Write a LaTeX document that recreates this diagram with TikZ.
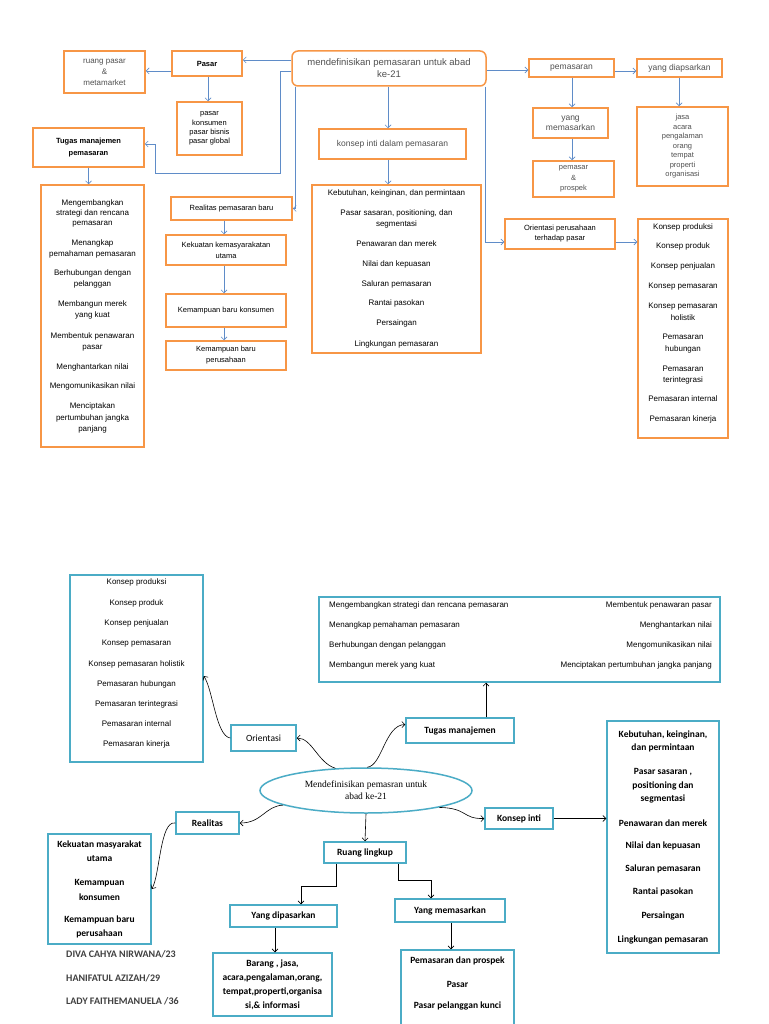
\documentclass[tikz,border=0pt]{standalone}
\usepackage{fontspec}
\setmainfont{Liberation Sans}
\newfontfamily\carl{Carlito}
\newfontfamily\tms{Liberation Serif}
\usetikzlibrary{shapes.geometric,arrows.meta}
\definecolor{org}{RGB}{247,150,70}
\definecolor{tl}{RGB}{75,172,198}
\definecolor{bl}{RGB}{95,140,200}
\definecolor{tg}{RGB}{80,80,80}
\definecolor{nm}{RGB}{64,64,64}
\begin{document}
\begin{tikzpicture}[x=1pt,y=-1pt,
 sz/.style n args={2}{minimum width=#1pt,minimum height=#2pt},
 obox/.style={draw=org,line width=1.5pt,inner sep=0pt,align=center,font=\fontsize{7.5}{9}\selectfont},
 tbox/.style={draw=tl,line width=1.5pt,inner sep=0pt,align=center,font=\carl\bfseries\fontsize{9.5}{11}\selectfont},
 ltxt/.style={inner sep=0pt,font=\fontsize{8}{9}\selectfont},
 btxt/.style={inner sep=0pt,font=\carl\bfseries\fontsize{9.5}{11}\selectfont},
 barrow/.style={draw=bl,line width=0.7pt,-{Straight Barb[length=3pt,width=6pt]}},
 karrow/.style={draw=black,line width=0.6pt,-{Straight Barb[length=3pt,width=6pt]}},
]
\fill[white] (0,0) rectangle (768,1024);
\useasboundingbox (0,0) rectangle (768,1024);

% ================= TOP =================
\node[obox,sz={194}{35},rounded corners=6pt,font=\fontsize{9.5}{12}\selectfont,text=tg] (main) at (389,68.5) {mendefinisikan pemasaran untuk abad\\ke-21};
\node[obox,sz={70}{25},font=\bfseries\fontsize{7.5}{9}\selectfont] (pasar) at (207,63.5) {Pasar};
\node[obox,sz={81}{42},font=\fontsize{8}{11}\selectfont,text=tg] (ruang) at (104.5,72) {ruang pasar\\\&\\metamarket};
\node[obox,sz={65}{53},font=\fontsize{7.5}{9.3}\selectfont] (pkons) at (209.5,128.5) {pasar\\konsumen\\pasar bisnis\\pasar global};
\node[obox,sz={111}{39},font=\bfseries\fontsize{7.5}{12}\selectfont] (tugasT) at (88.5,147.5) {Tugas manajemen\\pemasaran};
\node[obox,sz={103}{262}] (tlist) at (92.5,316) {};
\foreach \t/\y in {Mengembangkan/203,{strategi dan rencana}/213,pemasaran/224,Menangkap/243,{pemahaman pemasaran}/254,{Berhubungan dengan}/273,pelanggan/284,{Membangun merek}/304,{yang kuat}/315,{Membentuk penawaran}/336,pasar/348,{Menghantarkan nilai}/367,{Mengomunikasikan nilai}/386,Menciptakan/406,{pertumbuhan jangka}/418,panjang/429}
  \node[ltxt] (tl\y) at (92.5,\y) {\t};

\node[obox,sz={121}{23}] (realT) at (231.5,208.5) {Realitas pemasaran baru};
\node[obox,sz={120}{30},font=\fontsize{7.5}{11}\selectfont] (kek) at (226,250) {Kekuatan kemasyarakatan\\utama};
\node[obox,sz={120}{33}] (kkons) at (226,310.5) {Kemampuan baru konsumen};
\node[obox,sz={120}{29},font=\fontsize{7.5}{11}\selectfont] (kper) at (226,355.5) {Kemampuan baru\\perusahaan};

\node[obox,sz={147}{30},font=\fontsize{8.5}{10}\selectfont,text=tg] (kinti) at (392.5,144) {konsep inti dalam pemasaran};
\node[obox,sz={169}{168}] (kbt) at (396.5,269) {};
\foreach \t/\y in {{Kebutuhan, keinginan, dan permintaan}/193,{Pasar sasaran, positioning, dan}/213,segmentasi/224,{Penawaran dan merek}/244,{Nilai dan kepuasan}/264,{Saluran pemasaran}/284,{Rantai pasokan}/303,Persaingan/323,{Lingkungan pemasaran}/344}
  \node[ltxt] (kb\y) at (396.5,\y) {\t};

\node[obox,sz={85}{18},font=\fontsize{8.5}{10}\selectfont,text=tg] (pem) at (571.5,68) {pemasaran};
\node[obox,sz={85}{18},font=\fontsize{8.5}{10}\selectfont,text=tg] (ydip) at (679.5,68) {yang diapsarkan};
\node[obox,sz={75}{30},font=\fontsize{8.5}{10}\selectfont,text=tg] (ymem) at (570.5,123) {yang\\memasarkan};
\node[obox,sz={81}{36},font=\fontsize{7.5}{10.5}\selectfont,text=tg] (pprosp) at (573.5,179) {pemasar\\\&\\prospek};
\node[obox,sz={91}{79},font=\fontsize{7.5}{9.5}\selectfont,text=tg] (jasa) at (682.5,146.5) {jasa\\acara\\pengalaman\\orang\\tempat\\properti\\organisasi};
\node[obox,sz={110}{30},font=\fontsize{7.5}{10}\selectfont] (orT) at (560,234) {Orientasi perusahaan\\terhadap pasar};
\node[obox,sz={90}{219}] (klistT) at (683,328.5) {};
\foreach \t/\y in {{Konsep produksi}/227,{Konsep produk}/246,{Konsep penjualan}/266,{Konsep pemasaran}/287,{Konsep pemasaran}/307,holistik/318,Pemasaran/337,hubungan/349,Pemasaran/369,terintegrasi/380,{Pemasaran internal}/399,{Pemasaran kinerja}/419}
  \node[ltxt] (kp\y) at (683,\y) {\t};

% top connectors
\draw[barrow] ([yshift=8.5pt]main.west) -- ([yshift=3.5pt]pasar.east);
\draw[barrow] ([yshift=-7.5pt]pasar.west) -- ([yshift=1pt]ruang.east);
\draw[barrow] ([xshift=1pt]pasar.south) -- ([xshift=-1.5pt]pkons.north);
\draw[barrow] ([yshift=-2.5pt]main.west) -- (280,71) -- (280,173) -- (155,173) -- (155,144) -- ([yshift=3.5pt]tugasT.east);
\draw[barrow] ([xshift=4pt]main.south west) |- (realT.east);
\coordinate (oe) at ([yshift=-8pt]orT.west);
\draw[barrow] ([xshift=-1pt]main.south east) |- (oe);
\draw[barrow] ([xshift=-1pt]main.south) -- ([xshift=-4.5pt]kinti.north);
\draw[barrow] ([xshift=-4.5pt]kinti.south) -- ([xshift=-8.5pt]kbt.north);
\draw[barrow] ([yshift=-1.5pt]main.east) -- ([yshift=-2pt]pem.west);
\draw[barrow] ([yshift=-3pt]pem.east) -- ([yshift=-3pt]ydip.west);
\draw[barrow] ([xshift=0.5pt]pem.south) -- ([xshift=1.5pt]ymem.north);
\draw[barrow] ([xshift=1.5pt]ymem.south) -- ([xshift=-1.5pt]pprosp.north);
\draw[barrow] ([xshift=-0.5pt]ydip.south) -- ([xshift=-3.5pt]jasa.north);
\draw[barrow] (tugasT.south) -- (tugasT.south |- tlist.north);
\draw[barrow] ([xshift=-7.5pt]realT.south) -- ([xshift=-2pt]kek.north);
\draw[barrow] ([xshift=-2pt]kek.south) -- ([xshift=-2pt]kkons.north);
\draw[barrow] ([xshift=-2pt]kkons.south) -- ([xshift=-2pt]kper.north);
\coordinate (oe2) at ([yshift=-8pt]orT.east);
\draw[barrow] (oe2) -- (klistT.west |- oe2);

% ================= BOTTOM =================
\node[tbox,sz={133}{187}] (klistB) at (136.5,668.5) {};
\foreach \t/\y in {{Konsep produksi}/582,{Konsep produk}/603,{Konsep penjualan}/623,{Konsep pemasaran}/644,{Konsep pemasaran holistik}/664,{Pemasaran hubungan}/684,{Pemasaran terintegrasi}/704,{Pemasaran internal}/724,{Pemasaran kinerja}/744}
  \node[ltxt] (kq\y) at (136.5,\y) {\t};

\node[tbox,sz={65}{26},font=\carl\fontsize{9.5}{11}\selectfont] (orB) at (263.5,738) {Orientasi};
\node[draw=tl,line width=1.5pt,ellipse,inner sep=0pt,sz={212}{45},align=center,font=\tms\fontsize{9.5}{12}\selectfont] (ell) at (366,790.5) {Mendefinisikan pemasran untuk\\abad ke-21};
\node[tbox,sz={108}{25}] (tugB) at (460,730.5) {Tugas manajemen};
\node[tbox,sz={401}{85}] (tlistB) at (519.5,639.5) {};
\foreach \t/\y in {{Mengembangkan strategi dan rencana pemasaran}/605,{Menangkap pemahaman pemasaran}/625,{Berhubungan dengan pelanggan}/645,{Membangun merek yang kuat}/665}
  \node[ltxt,anchor=west] (ml\y) at (329,\y) {\t};
\foreach \t/\y in {{Membentuk penawaran pasar}/605,{Menghantarkan nilai}/625,{Mengomunikasikan nilai}/645,{Menciptakan pertumbuhan jangka panjang}/665}
  \node[ltxt,anchor=east] (mr\y) at (712,\y) {\t};

\node[tbox,sz={68}{21}] (kintiB) at (519,818.5) {Konsep inti};
\node[tbox,sz={112}{232}] (kbtB) at (663,837) {};
\foreach \t/\y in {{Kebutuhan, keinginan,}/735,{dan permintaan}/748,{Pasar sasaran ,}/772,{positioning dan}/786,segmentasi/799,{Penawaran dan merek}/823,{Nilai dan kepuasan}/846,{Saluran pemasaran}/869,{Rantai pasokan}/892,Persaingan/916,{Lingkungan pemasaran}/940}
  \node[btxt] (kc\y) at (663,\y) {\t};

\node[tbox,sz={63}{22}] (realB) at (207.5,823) {Realitas};
\node[tbox,sz={103}{110}] (kekB) at (99.5,889) {};
\foreach \t/\y in {{Kekuatan masyarakat}/845,utama/859,Kemampuan/883,konsumen/897,{Kemampuan baru}/920,perusahaan/934}
  \node[btxt] (kk\y) at (99.5,\y) {\t};

\node[tbox,sz={82}{21}] (rl) at (365,852.5) {Ruang lingkup};
\node[tbox,sz={107}{22}] (ydipB) at (283.5,916) {Yang dipasarkan};
\node[tbox,sz={110}{23}] (ymemB) at (450,910.5) {Yang memasarkan};
\node[tbox,sz={119}{63},font=\carl\bfseries\fontsize{9.5}{14}\selectfont] (barang) at (272.5,984.5) {Barang , jasa,\\acara,pengalaman,orang,\\tempat,properti,organisa\\si,\& informasi};
\node[tbox,sz={113}{80}] (pdp) at (457.5,990) {};
\foreach \t/\y in {{Pemasaran dan prospek}/961,Pasar/984,{Pasar pelanggan kunci}/1006}
  \node[btxt] (pp\y) at (457.5,\y) {\t};

\node[btxt,anchor=west,text=nm,font=\carl\bfseries\fontsize{10}{11}\selectfont] (n1) at (66,954) {DIVA CAHYA NIRWANA/23};
\node[btxt,anchor=west,text=nm,font=\carl\bfseries\fontsize{10}{11}\selectfont] (n2) at (66,978) {HANIFATUL AZIZAH/29};
\node[btxt,anchor=west,text=nm,font=\carl\bfseries\fontsize{10}{11}\selectfont] (n3) at (66,1001) {LADY FAITHEMANUELA /36};

% bottom connectors
\draw[karrow] (ell.144) .. controls (318,763) and (312,738) .. (orB.east);
\draw[karrow] (orB.west) .. controls (216,736) and (213,690) .. ([yshift=-7.5pt]klistB.east);
\draw[karrow] (ell.87) .. controls (382,766) and (385,725) .. ([yshift=6pt]tugB.west);
\draw[karrow] ([xshift=26pt]tugB.north) -- ([xshift=26pt]tugB.north |- tlistB.south);
\draw[karrow] (ell.190) .. controls (265,806) and (262,823) .. (realB.east);
\draw[karrow] (realB.west) .. controls (160,820) and (160,875) .. (kekB.east);
\draw[karrow] (ell.-13) .. controls (468,808) and (462,819) .. (kintiB.west);
\draw[karrow] (kintiB.east) -- (kintiB.east -| kbtB.west);
\draw[karrow] (ell.south) -- (rl.north);
\draw[karrow] ([xshift=-29pt]rl.south) -- ++(0,23) -| ([xshift=17.5pt]ydipB.north);
\draw[karrow] ([xshift=33pt]rl.south) -- ++(0,17) -| ([xshift=-19pt]ymemB.north);
\draw[karrow] ([xshift=1pt]ymemB.south) -- ([xshift=1pt]ymemB.south |- pdp.north);
\draw[karrow] ([xshift=-8.5pt]ydipB.south) -- ([xshift=-8.5pt]ydipB.south |- barang.north);
\end{tikzpicture}
\end{document}
